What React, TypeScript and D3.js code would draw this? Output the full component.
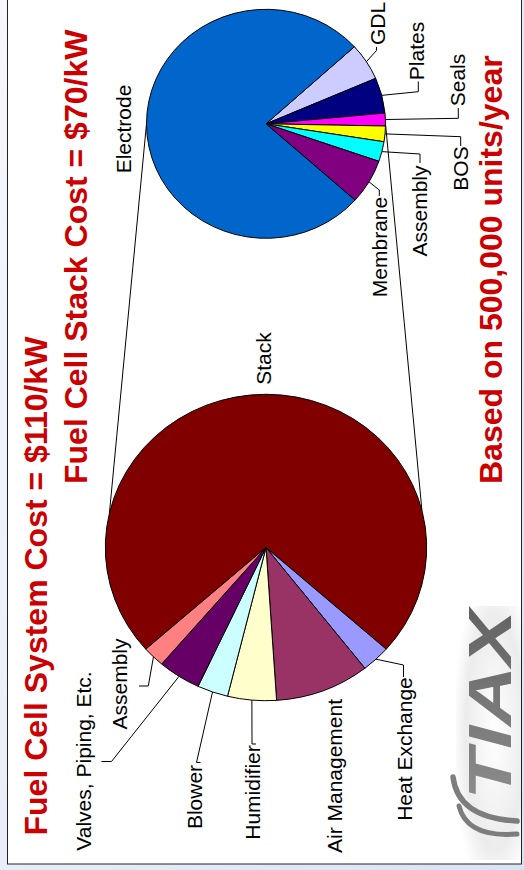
import React from 'react';
import * as d3 from 'd3';

// ---- data (shares, percent of each pie) ----
const systemNames = ['Stack', 'Heat Exchange', 'Air Management', 'Humidifier', 'Blower', 'Valves, Piping, Etc.', 'Assembly'];
const systemShares = [73.1, 2.9, 9.5, 4.9, 3.1, 4.3, 2.2];
const systemColors = ['#800000', '#9999FF', '#993366', '#FFFFCC', '#CCFFFF', '#660066', '#FF8080'];

const stackNames = ['GDL', 'Plates', 'Seals', 'BOS', 'Assembly', 'Membrane', 'Electrode'];
const stackShares = [5.25, 5.0, 1.8, 2.2, 2.8, 6.3, 76.6];
const stackColors = ['#CCCCFF', '#000080', '#FF00FF', '#FFFF00', '#00FFFF', '#800080', '#0066CC'];

const titleLines = ['Fuel Cell System Cost = $110/kW', 'Fuel Cell Stack Cost = $70/kW', 'Based on 500,000 units/year'];
const logoText = 'TIAX';

// ---- layout ----
const W = 524, H = 870;
const bigPie = { cx: 266, cy: 547.5, rx: 160.7, ry: 153.2 };
const smallPie = { cx: 266, cy: 123.8, rx: 119.5, ry: 114.5 };
const deg = Math.PI / 180;
const FONT = '"Liberation Sans", Arial, Helvetica, sans-serif';

type Lab = { x: number; y: number; leader?: [number, number][] };
const bigLabels: Record<string, Lab> = {
  'Stack': { x: 271, y: 358.5 },
  'Heat Exchange': { x: 411.5, y: 749, leader: [[403.5, 665], [403.5, 677]] },
  'Air Management': { x: 341.5, y: 776 },
  'Humidifier': { x: 260, y: 792.5, leader: [[252, 744], [256, 744]] },
  'Blower': { x: 202, y: 797, leader: [[196.5, 762.5], [200.5, 762.5]] },
  'Valves, Piping, Etc.': { x: 90.5, y: 761, leader: [[111.5, 761.5], [101.5, 761.5]] },
  'Assembly': { x: 127, y: 684, leader: [[148.3, 686], [139, 686]] },
};
const smallLabels: Record<string, Lab> = {
  'Electrode': { x: 131, y: 129 },
  'GDL': { x: 384.5, y: 23.5, leader: [[376.5, 50.5], [376.5, 47]] },
  'Plates': { x: 423.5, y: 51, leader: [[418.3, 91.7], [418.3, 81.5]] },
  'Seals': { x: 465, y: 80, leader: [[458.3, 118.3], [458.3, 108]] },
  'BOS': { x: 468, y: 168.5, leader: [[460.7, 136.7], [460.7, 146]] },
  'Assembly': { x: 426.5, y: 211, leader: [[420, 154], [420, 163]] },
  'Membrane': { x: 386.5, y: 247, leader: [[379.3, 190], [379.3, 196]] },
};
// connector lines: angle on small pie -> angle on big pie
const connectors: [number, number][] = [[-90, -77], [90, 76]];

function edgePoint(p: typeof bigPie, a: number): [number, number] {
  return [p.cx + p.rx * Math.sin(a), p.cy - p.ry * Math.cos(a)];
}

function PieChart({ p, names, shares, colors, start, labels }: any) {
  const pie = d3.pie<number>().sort(null).value((d) => d).startAngle(start).endAngle(start + 2 * Math.PI);
  const arcs = pie(shares);
  const arcGen = d3.arc<d3.PieArcDatum<number>>().innerRadius(0).outerRadius(p.ry);
  return (
    <g>
      <g transform={`translate(${p.cx},${p.cy}) scale(${p.rx / p.ry},1)`}>
        {arcs.map((a, i) => (
          <path key={i} d={arcGen(a) || ''} fill={colors[i]} stroke="#000" strokeWidth={1} vectorEffect="non-scaling-stroke" strokeLinejoin="round" />
        ))}
      </g>
      {arcs.map((a, i) => {
        const lab: Lab = labels[names[i]];
        if (!lab || !lab.leader) return null;
        const mid = (a.startAngle + a.endAngle) / 2;
        const pts = [edgePoint(p, mid), ...lab.leader];
        return <polyline key={'l' + i} points={pts.map((q) => q.join(',')).join(' ')} fill="none" stroke="#000" strokeWidth={1} />;
      })}
      {names.map((n: string, i: number) => {
        const lab: Lab = labels[n];
        return (
          <text key={'t' + i} transform={`translate(${lab.x},${lab.y}) rotate(-90)`} textAnchor="middle" fontFamily={FONT} fontSize={21} fill="#000">
            {n}
          </text>
        );
      })}
    </g>
  );
}

export default function App() {
  const sysStart = -(systemShares[0] / d3.sum(systemShares)) * Math.PI;
  const stackStart = 47.7 * deg;
  return (
    <svg width={W} height={H} style={{ position: 'absolute', left: 0, top: 0, display: 'block' }} xmlns="http://www.w3.org/2000/svg">
      <defs>
        <linearGradient id="bg" x1="0" y1="0" x2="1" y2="1">
          <stop offset="0" stopColor="#f6f7fc" />
          <stop offset="1" stopColor="#d9e3f6" />
        </linearGradient>
        <radialGradient id="logoBg" cx="0.6" cy="0.5" r="0.65">
          <stop offset="0" stopColor="#ffffff" />
          <stop offset="0.7" stopColor="#ececec" />
          <stop offset="1" stopColor="#ffffff" />
        </radialGradient>
        <linearGradient id="logoFill" x1="0" y1="0" x2="1" y2="0">
          <stop offset="0" stopColor="#8c8c8c" />
          <stop offset="1" stopColor="#626262" />
        </linearGradient>
        <filter id="soft" x="-10%" y="-10%" width="120%" height="120%">
          <feGaussianBlur stdDeviation="0.6" />
        </filter>
      </defs>
      <rect x={0} y={0} width={W} height={H} fill="url(#bg)" />
      <rect x={7.5} y={-2} width={514} height={866} fill="#fff" stroke="#222" strokeWidth={1} />

      {/* logo */}
      <rect x={456} y={606} width={65} height={254} fill="url(#logoBg)" />
      <g fill="none" stroke="#7d7d7d" strokeLinecap="round" filter="url(#soft)">
        <path d="M 453 777 Q 458 818 517 821" strokeWidth={5.5} />
        <path d="M 459 806 Q 467 838 517 834" strokeWidth={5} />
      </g>
      <text transform={`translate(511,800) rotate(-90)`} fontFamily={FONT} fontWeight="bold" fontStyle="italic" fontSize={62} fill="url(#logoFill)" textLength={190} lengthAdjust="spacingAndGlyphs" filter="url(#soft)">
        {logoText}
      </text>

      {/* connectors */}
      {connectors.map(([a1, a2], i) => {
        const s = edgePoint(smallPie, a1 * deg);
        const b = edgePoint(bigPie, a2 * deg);
        return <line key={i} x1={s[0]} y1={s[1]} x2={b[0]} y2={b[1]} stroke="#000" strokeWidth={1} />;
      })}

      <PieChart p={bigPie} names={systemNames} shares={systemShares} colors={systemColors} start={sysStart} labels={bigLabels} />
      <PieChart p={smallPie} names={stackNames} shares={stackShares} colors={stackColors} start={stackStart} labels={smallLabels} />

      {/* titles */}
      <text transform="translate(46.5,835.5) rotate(-90)" fontFamily={FONT} fontWeight="bold" fontSize={32} fill="#CC0000">{titleLines[0]}</text>
      <text transform="translate(86.5,484) rotate(-90)" fontFamily={FONT} fontWeight="bold" fontSize={32} fill="#CC0000">{titleLines[1]}</text>
      <text transform="translate(501.5,484) rotate(-90)" fontFamily={FONT} fontWeight="bold" fontSize={32} fill="#CC0000">{titleLines[2]}</text>
    </svg>
  );
}
